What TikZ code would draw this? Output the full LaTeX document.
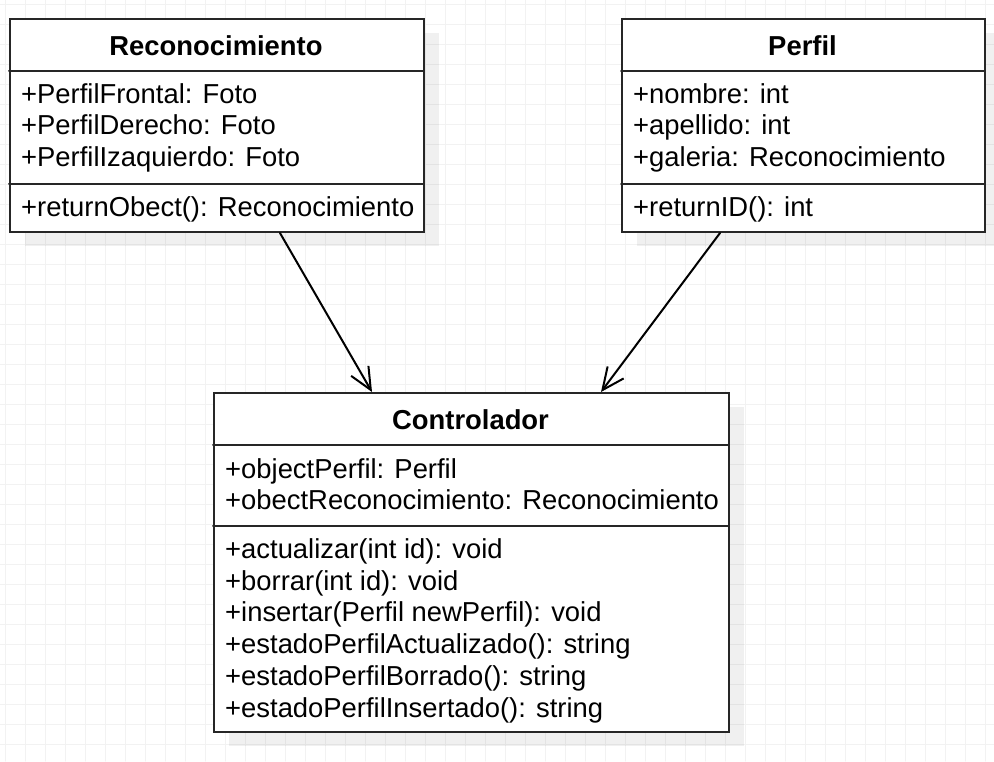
\documentclass[tikz,border=0pt]{standalone}
\usepackage{fontspec}
\setmainfont{Liberation Sans}
\usetikzlibrary{arrows.meta,shadows}

\newcommand\umlsize{\fontsize{27.4}{31.7}\selectfont}

\tikzset{
    gridline/.style={draw=black!5, line width=1pt},
    classbox/.style={draw=black!85, line width=2pt, fill=white, anchor=north west, inner sep=0pt,
        drop shadow={shadow xshift=15pt, shadow yshift=-14pt, fill=black, opacity=0.06}},
    classrule/.style={draw=black!85, line width=2pt},
    classname/.style={anchor=base, inner sep=0pt, font=\umlsize\bfseries},
    member/.style={anchor=base west, inner sep=0pt, font=\umlsize},
    assoc/.style={line width=2pt, -{Straight Barb[length=22pt,width=20pt]}}
}

\begin{document}
\begin{tikzpicture}[x=1pt,y=-1pt,line cap=round]
        \useasboundingbox (0,0) rectangle (994,761);
        \fill[white] (0,0) rectangle (994,761);
        \begin{scope}[xshift=5pt,yshift=-4pt]
                \draw[gridline, step=20pt] (-5,-4) grid (989,757);
        \end{scope}
        % Reconocimiento
        \node[classbox, minimum width=414pt, minimum height=213pt] (rec) at (9,18) {};
        \draw[classrule] (9,71) -- (423,71);
        \draw[classrule] (9,184) -- (423,184);
        \node[classname] (recname) at (216,55) {Reconocimiento};
        \node[member] (recfront) at (21,103) {+PerfilFrontal: Foto};
        \node[member] (recright) at (21,134.7) {+PerfilDerecho: Foto};
        \node[member] (recleft) at (21,166.4) {+PerfilIzaquierdo: Foto};
        \node[member] (recret) at (21,216) {+returnObect(): Reconocimiento};
        % Perfil
        \node[classbox, minimum width=363pt, minimum height=213pt] (perf) at (621,18) {};
        \draw[classrule] (621,71) -- (984,71);
        \draw[classrule] (621,184) -- (984,184);
        \node[classname] (perfname) at (802.5,55) {Perfil};
        \node[member] (perfnom) at (633,103) {+nombre: int};
        \node[member] (perfape) at (633,134.7) {+apellido: int};
        \node[member] (perfgal) at (633,166.4) {+galeria: Reconocimiento};
        \node[member] (perfret) at (633,216) {+returnID(): int};
        % Controlador
        \node[classbox, minimum width=515pt, minimum height=339pt] (ctrl) at (213,392) {};
        \draw[classrule] (213,445) -- (728,445);
        \draw[classrule] (213,526) -- (728,526);
        \node[classname] (ctrlname) at (470.5,429) {Controlador};
        \node[member] (ctrlperf) at (225,478) {+objectPerfil: Perfil};
        \node[member] (ctrlrec) at (225,509.5) {+obectReconocimiento: Reconocimiento};
        \node[member] (ctrlact) at (225,558) {+actualizar(int id): void};
        \node[member] (ctrlbor) at (225,590) {+borrar(int id): void};
        \node[member] (ctrlins) at (225,621.5) {+insertar(Perfil newPerfil): void};
        \node[member] (ctrlestact) at (225,653) {+estadoPerfilActualizado(): string};
        \node[member] (ctrlestbor) at (225,685) {+estadoPerfilBorrado(): string};
        \node[member] (ctrlestins) at (225,717) {+estadoPerfilInsertado(): string};
        % asociaciones
        \draw[assoc] ([xshift=63pt]rec.south) -- ([xshift=-99.5pt]ctrl.north);
        \draw[assoc] ([xshift=-83.5pt]perf.south) -- ([xshift=129.5pt]ctrl.north);
\end{tikzpicture}
\end{document}
